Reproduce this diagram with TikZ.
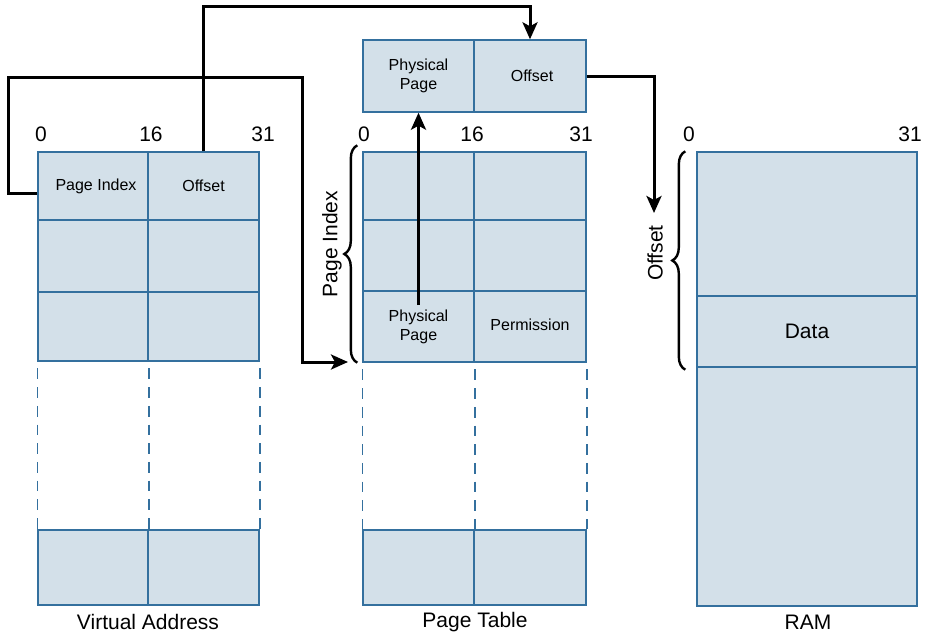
\documentclass[tikz,border=0pt]{standalone}
\usepackage{fontspec}
\setmainfont{Liberation Sans}
\usetikzlibrary{arrows.meta,decorations.pathreplacing,calc}
\definecolor{cellfill}{RGB}{211,224,233}
\definecolor{celldraw}{RGB}{52,112,158}
\newcommand\cellfnt{\fontsize{16}{19}\selectfont}
\newcommand\labfnt{\fontsize{21}{24}\selectfont}
\begin{document}
\begin{tikzpicture}[x=1pt,y=-1pt,
  cell/.style={draw=celldraw, fill=cellfill, line width=1.4pt, inner sep=0pt, align=center, font=\cellfnt},
  lab/.style={inner sep=0pt, font=\labfnt},
  conn/.style={line width=3pt, -{Stealth[length=17pt,width=15pt,inset=4pt]}},
  dashline/.style={draw=celldraw, line width=1.6pt, dash pattern=on 10.7pt off 8pt, dash phase=12pt},
  bracestyle/.style={line width=2.4pt, decorate, decoration={brace, amplitude=13pt}}
]
\useasboundingbox (0,0) rectangle (925,634);

% Virtual address
\node[cell, minimum width=110pt, minimum height=68pt] (va11) at (93,186) {\hspace*{6pt}Page Index};
\node[cell, minimum width=111pt, minimum height=68pt] (va12) at (203.5,186) {Offset};
\node[cell, minimum width=110pt, minimum height=72pt] (va21) at (93,256) {};
\node[cell, minimum width=111pt, minimum height=72pt] (va22) at (203.5,256) {};
\node[cell, minimum width=110pt, minimum height=69pt] (va31) at (93,326.5) {};
\node[cell, minimum width=111pt, minimum height=69pt] (va32) at (203.5,326.5) {};
\node[cell, minimum width=110pt, minimum height=75pt] (vab1) at (93,567.5) {};
\node[cell, minimum width=111pt, minimum height=75pt] (vab2) at (203.5,567.5) {};
\draw[dashline] (va31.south west) -- (vab1.north west);
\draw[dashline] (va31.south east) -- (vab1.north east);
\draw[dashline] (va32.south east) -- (vab2.north east);

% Page table
\node[cell, minimum width=111pt, minimum height=68pt] (pt11) at (418.5,186) {};
\node[cell, minimum width=112pt, minimum height=68pt] (pt12) at (530,186) {};
\node[cell, minimum width=111pt, minimum height=71pt] (pt21) at (418.5,255.5) {};
\node[cell, minimum width=112pt, minimum height=71pt] (pt22) at (530,255.5) {};
\node[cell, minimum width=111pt, minimum height=71pt] (pt31) at (418.5,326.5) {Physical\\Page};
\node[cell, minimum width=112pt, minimum height=71pt] (pt32) at (530,326.5) {\raisebox{3pt}{Permission}};
\node[cell, minimum width=111pt, minimum height=75pt] (ptb1) at (418.5,567.5) {};
\node[cell, minimum width=112pt, minimum height=75pt] (ptb2) at (530,567.5) {};
\draw[dashline] (pt31.south west) -- (ptb1.north west);
\draw[dashline] (pt31.south east) -- (ptb1.north east);
\draw[dashline] (pt32.south east) -- (ptb2.north east);

% Physical address
\node[cell, minimum width=111pt, minimum height=72pt] (pa11) at (418.5,76) {Physical\\Page};
\node[cell, minimum width=112pt, minimum height=72pt] (pa12) at (530,76) {\raisebox{-3pt}{\hspace*{4pt}Offset}};

% RAM
\node[cell, minimum width=220pt, minimum height=144pt] (ram1) at (807,224) {};
\node[cell, minimum width=220pt, minimum height=71pt, font=\labfnt] (ram2) at (807,331.5) {Data};
\node[cell, minimum width=220pt, minimum height=239pt] (ram3) at (807,486.5) {};

% bit labels
\node[lab] (v0) at (41,134) {0};
\node[lab] (v16) at (151,134) {16};
\node[lab] (v31) at (263,134) {31};
\node[lab] (p0) at (364,134) {0};
\node[lab] (p16) at (472,134) {16};
\node[lab] (p31) at (581,134) {31};
\node[lab] (r0) at (689,134) {0};
\node[lab] (r31) at (910,134) {31};

% captions
\node[lab] (cva) at (148,622) {Virtual Address};
\node[lab] (cpt) at (475,622) {Page Table};
\node[lab] (cram) at (808,622) {RAM};

% braces
\draw[bracestyle] ([xshift=-5pt]pt31.south west) -- ([xshift=-5pt,yshift=6pt]pt11.north west);
\node[lab, rotate=90] (lpi) at (332,244) {Page Index};
\draw[bracestyle] ([xshift=-11pt,yshift=-2pt]ram2.south west) -- ([xshift=-11pt]ram1.north west);
\node[lab, rotate=90] (loff) at (655,253) {Offset};

% connectors
\coordinate (pib) at (348,362);
\coordinate (ramarrow) at (654,213);
\draw[conn] ([yshift=-7pt]va11.west) -- (8,193) |- (302,77) |- (pib);
\draw[conn] (va12.north) -- ++(0,-145) -| (pa12.north);
\draw[conn] ([yshift=21.5pt]pt31.center) -- (pa11.south);
\draw[conn] (pa12.east) -| (ramarrow);
\end{tikzpicture}
\end{document}
